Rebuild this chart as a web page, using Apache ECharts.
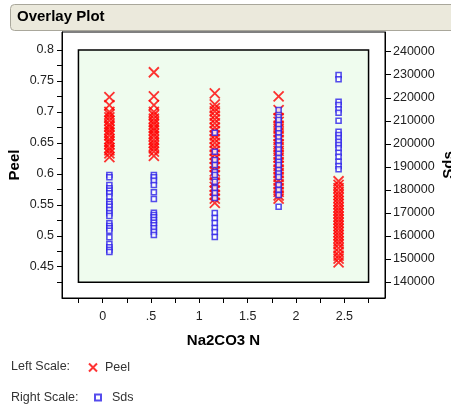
<!DOCTYPE html>
<html>
<head>
<meta charset="utf-8">
<script src="https://cdn.jsdelivr.net/npm/echarts@6/dist/echarts.min.js"></script>
<style>
  html, body { margin: 0; padding: 0; background: #fff; }
  #chart { width: 451px; height: 411px; }
</style>
</head>
<body>
<div id="chart"></div>
<script>
// x positions of the five Na2CO3 groups
const groupX = [0.07, 0.53, 1.16, 1.82, 2.44]

// Peel values per group (left scale)
const peel0 = [0.724, 0.711, 0.700, 0.696, 0.691, 0.686, 0.680, 0.676, 0.671, 0.667, 0.662, 0.656, 0.652, 0.648, 0.642, 0.638, 0.633, 0.627]
const peel1 = [0.764, 0.725, 0.711, 0.700, 0.695, 0.689, 0.684, 0.680, 0.674, 0.670, 0.665, 0.661, 0.655, 0.650, 0.645, 0.641, 0.636, 0.629]
const peel2 = [0.730, 0.712, 0.706, 0.701, 0.694, 0.688, 0.682, 0.675, 0.669, 0.662, 0.656, 0.650, 0.643, 0.637, 0.631, 0.624, 0.617, 0.611, 0.604, 0.598, 0.586, 0.579, 0.573, 0.566, 0.560, 0.553]
const peel3 = [0.725, 0.703, 0.690, 0.684, 0.678, 0.673, 0.667, 0.661, 0.655, 0.648, 0.643, 0.637, 0.631, 0.626, 0.619, 0.613, 0.607, 0.601, 0.595, 0.589, 0.583, 0.577, 0.571, 0.565, 0.560]
const peel4 = [0.588, 0.582, 0.577, 0.571, 0.566, 0.561, 0.556, 0.551, 0.546, 0.541, 0.536, 0.531, 0.526, 0.521, 0.516, 0.511, 0.506, 0.501, 0.496, 0.491, 0.486, 0.480, 0.474, 0.468, 0.463, 0.457]

// Sds values per group (right scale)
const sds0 = [186460, 185460, 182120, 180690, 179640, 178520, 177040, 174870, 173870, 172700, 171270, 169830, 168660, 165490, 164320, 163320, 162280, 159410, 156500, 155070, 153900, 153030]
const sds1 = [186460, 185460, 183990, 182120, 178950, 176040, 170090, 169090, 168090, 166920, 165750, 164620, 163320, 161840, 160410]
const sds2 = [204830, 196580, 192980, 190810, 187760, 186460, 183550, 180820, 178650, 176480, 169960, 167800, 165630, 163460, 161720, 159550]
const sds3 = [214680, 211650, 210350, 208170, 206400, 204600, 202800, 201000, 199300, 197500, 195700, 193900, 192200, 190810, 188640, 187100, 185600, 182120, 180000, 177780, 172700]
const sds4 = [229870, 228020, 218290, 216860, 214990, 213520, 210040, 205260, 203830, 202390, 200920, 199490, 198060, 196150, 194410, 192240, 190370, 188940]

// tick / label values
const xLabels = [0, 0.5, 1, 1.5, 2, 2.5]
const xTicks = [-0.25, 0, 0.25, 0.5, 0.75, 1, 1.25, 1.5, 1.75, 2, 2.25, 2.5, 2.75]
const peelLabels = [0.45, 0.5, 0.55, 0.6, 0.65, 0.7, 0.75, 0.8]
const peelTicks = [0.425, 0.45, 0.475, 0.5, 0.525, 0.55, 0.575, 0.6, 0.625, 0.65, 0.675, 0.7, 0.725, 0.75, 0.775, 0.8]
const sdsLabels = [140000, 150000, 160000, 170000, 180000, 190000, 200000, 210000, 220000, 230000, 240000]

const peelGroups = [peel0, peel1, peel2, peel3, peel4]
const sdsGroups = [sds0, sds1, sds2, sds3, sds4]
const toPoints = groups => groups.flatMap((vals, i) => vals.map(v => [groupX[i], v]))

const FONT = "'Liberation Sans', Arial, sans-serif"
const X_PATH = 'path://M0,0L10,10M10,0L0,10'

const chart = echarts.init(document.getElementById('chart'))

chart.setOption({
  animation: false,
  textStyle: { fontFamily: FONT },
  grid: {
    left: 62, right: 66, top: 32, bottom: 113,
    outerBoundsMode: 'none',
    show: true, borderColor: '#000', borderWidth: 1, backgroundColor: '#fff'
  },
  graphic: [
    {
      type: 'rect', left: 10, top: 4,
      shape: { width: 445, height: 26, r: 4 },
      style: { fill: '#ebe9dc', stroke: '#a9a79b', lineWidth: 1 }
    },
    {
      type: 'text', left: 17, top: 9,
      style: { text: 'Overlay Plot', font: 'bold 15px ' + FONT, fill: '#000' }
    },
    {
      type: 'text', left: 11, top: 360,
      style: { text: 'Left Scale:', font: '12.5px ' + FONT, fill: '#333' }
    },
    {
      type: 'text', left: 11, top: 391,
      style: { text: 'Right Scale:', font: '12.5px ' + FONT, fill: '#333' }
    }
  ],
  legend: [
    {
      data: ['Peel'], left: 83, top: 356, itemWidth: 8, itemHeight: 8,
      textStyle: { fontSize: 12.5, color: '#333', padding: [0, 0, 0, 3] }
    },
    {
      data: ['Sds'], left: 89, top: 386, itemWidth: 6, itemHeight: 6,
      textStyle: { fontSize: 12.5, color: '#333', padding: [2, 0, 0, 6] }
    }
  ],
  xAxis: {
    type: 'value', min: -0.42, max: 2.92,
    name: 'Na2CO3 N', nameLocation: 'middle', nameGap: 35,
    nameTextStyle: { fontSize: 15, fontWeight: 'bold', color: '#000' },
    splitLine: { show: false },
    axisLine: { onZero: false, lineStyle: { color: '#000', width: 1 } },
    axisTick: { customValues: xTicks, length: 5, lineStyle: { color: '#000' } },
    axisLabel: {
      customValues: xLabels, margin: 12, fontSize: 12.5, color: '#222',
      formatter: v => String(v).replace(/^0\./, '.')
    }
  },
  yAxis: [
    {
      type: 'value', min: 0.3995, max: 0.829, position: 'left',
      name: 'Peel', nameLocation: 'middle', nameGap: 40,
      nameMoveOverlap: false,
      nameTextStyle: { fontSize: 15, fontWeight: 'bold', color: '#000' },
      splitLine: { show: false },
      axisLine: { show: true, onZero: false, lineStyle: { color: '#000', width: 1 } },
      axisTick: { customValues: peelTicks, length: 5, lineStyle: { color: '#000' } },
      axisLabel: { customValues: peelLabels, margin: 8, fontSize: 12.5, color: '#222' }
    },
    {
      type: 'value', min: 133050, max: 248550, position: 'right',
      name: 'Sds', nameLocation: 'middle', nameGap: 56, nameRotate: 90,
      nameMoveOverlap: false,
      nameTextStyle: { fontSize: 15, fontWeight: 'bold', color: '#000' },
      splitLine: { show: false },
      axisLine: { show: true, onZero: false, lineStyle: { color: '#000', width: 1 } },
      axisTick: { customValues: sdsLabels, length: 6, lineStyle: { color: '#000' } },
      axisLabel: {
        customValues: sdsLabels, margin: 8, fontSize: 12.5, color: '#222',
        formatter: v => String(v)
      }
    }
  ],
  series: [
    {
      name: 'Peel', type: 'scatter', yAxisIndex: 0,
      data: toPoints(peelGroups),
      symbol: X_PATH, symbolSize: 10,
      itemStyle: { color: 'rgba(0,0,0,0)', borderColor: '#ff0000', borderWidth: 1.8 },
      markArea: {
        silent: true,
        itemStyle: { color: '#effcee', borderColor: '#000', borderWidth: 1.5 },
        data: [[{ coord: [-0.25, 0.425] }, { coord: [2.75, 0.8] }]]
      }
    },
    {
      name: 'Sds', type: 'scatter', yAxisIndex: 1,
      data: toPoints(sdsGroups),
      symbol: 'rect', symbolSize: 5,
      itemStyle: { color: '#ffffff', borderColor: '#2a1fe8', borderWidth: 1.6 }
    }
  ]
})
</script>
</body>
</html>
